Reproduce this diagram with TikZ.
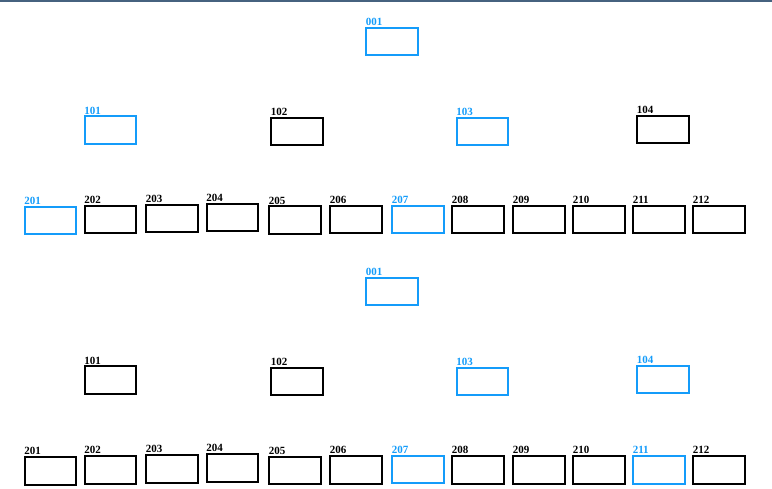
\documentclass[tikz,border=0pt]{standalone}
\usepackage{fontspec}
\setmainfont{Liberation Serif}
\definecolor{hl}{HTML}{149CFA}
\definecolor{topbar}{HTML}{46627F}
\tikzset{
  boxnode/.style={draw, line width=2pt, minimum width=51.5pt, minimum height=27.5pt, inner sep=0pt, anchor=north west},
  lbl/.style={anchor=base west, inner sep=0pt, font=\bfseries\fontsize{11}{12}\selectfont}
}
\newcommand{\bx}[5]{%
  \node[boxnode, draw=#5] (#1) at (#3,#4) {};
  \node[lbl, text=#5] (#1l) at ([xshift=0.6pt,yshift=1.4pt]#1.north west) {#2};
}
\begin{document}
\begin{tikzpicture}[x=1pt,y=-1pt]
\useasboundingbox (0,0) rectangle (772,489);
\fill[topbar] (0,0) rectangle (772,1.8);
% top tree
\bx{t001}{001}{365}{27}{hl}
\bx{t101}{101}{83.5}{115.5}{hl}
\bx{t102}{102}{270}{117}{black}
\bx{t103}{103}{455.5}{117}{hl}
\bx{t104}{104}{636}{115}{black}
\bx{t201}{201}{23.5}{206}{hl}
\bx{t202}{202}{83.5}{205}{black}
\bx{t203}{203}{145}{204}{black}
\bx{t204}{204}{205.5}{203}{black}
\bx{t205}{205}{268}{205.5}{black}
\bx{t206}{206}{329}{205}{black}
\bx{t207}{207}{391}{205}{hl}
\bx{t208}{208}{451}{205}{black}
\bx{t209}{209}{512}{205}{black}
\bx{t210}{210}{572}{205}{black}
\bx{t211}{211}{632}{205}{black}
\bx{t212}{212}{692}{205}{black}
% bottom tree
\bx{b001}{001}{365}{277}{hl}
\bx{b101}{101}{83.5}{365.5}{black}
\bx{b102}{102}{270}{367}{black}
\bx{b103}{103}{455.5}{367}{hl}
\bx{b104}{104}{636}{365}{hl}
\bx{b201}{201}{23.5}{456}{black}
\bx{b202}{202}{83.5}{455}{black}
\bx{b203}{203}{145}{454}{black}
\bx{b204}{204}{205.5}{453}{black}
\bx{b205}{205}{268}{455.5}{black}
\bx{b206}{206}{329}{455}{black}
\bx{b207}{207}{391}{454.5}{hl}
\bx{b208}{208}{451}{455}{black}
\bx{b209}{209}{512}{455}{black}
\bx{b210}{210}{572}{455}{black}
\bx{b211}{211}{632}{455}{hl}
\bx{b212}{212}{692}{455}{black}
\end{tikzpicture}
\end{document}
